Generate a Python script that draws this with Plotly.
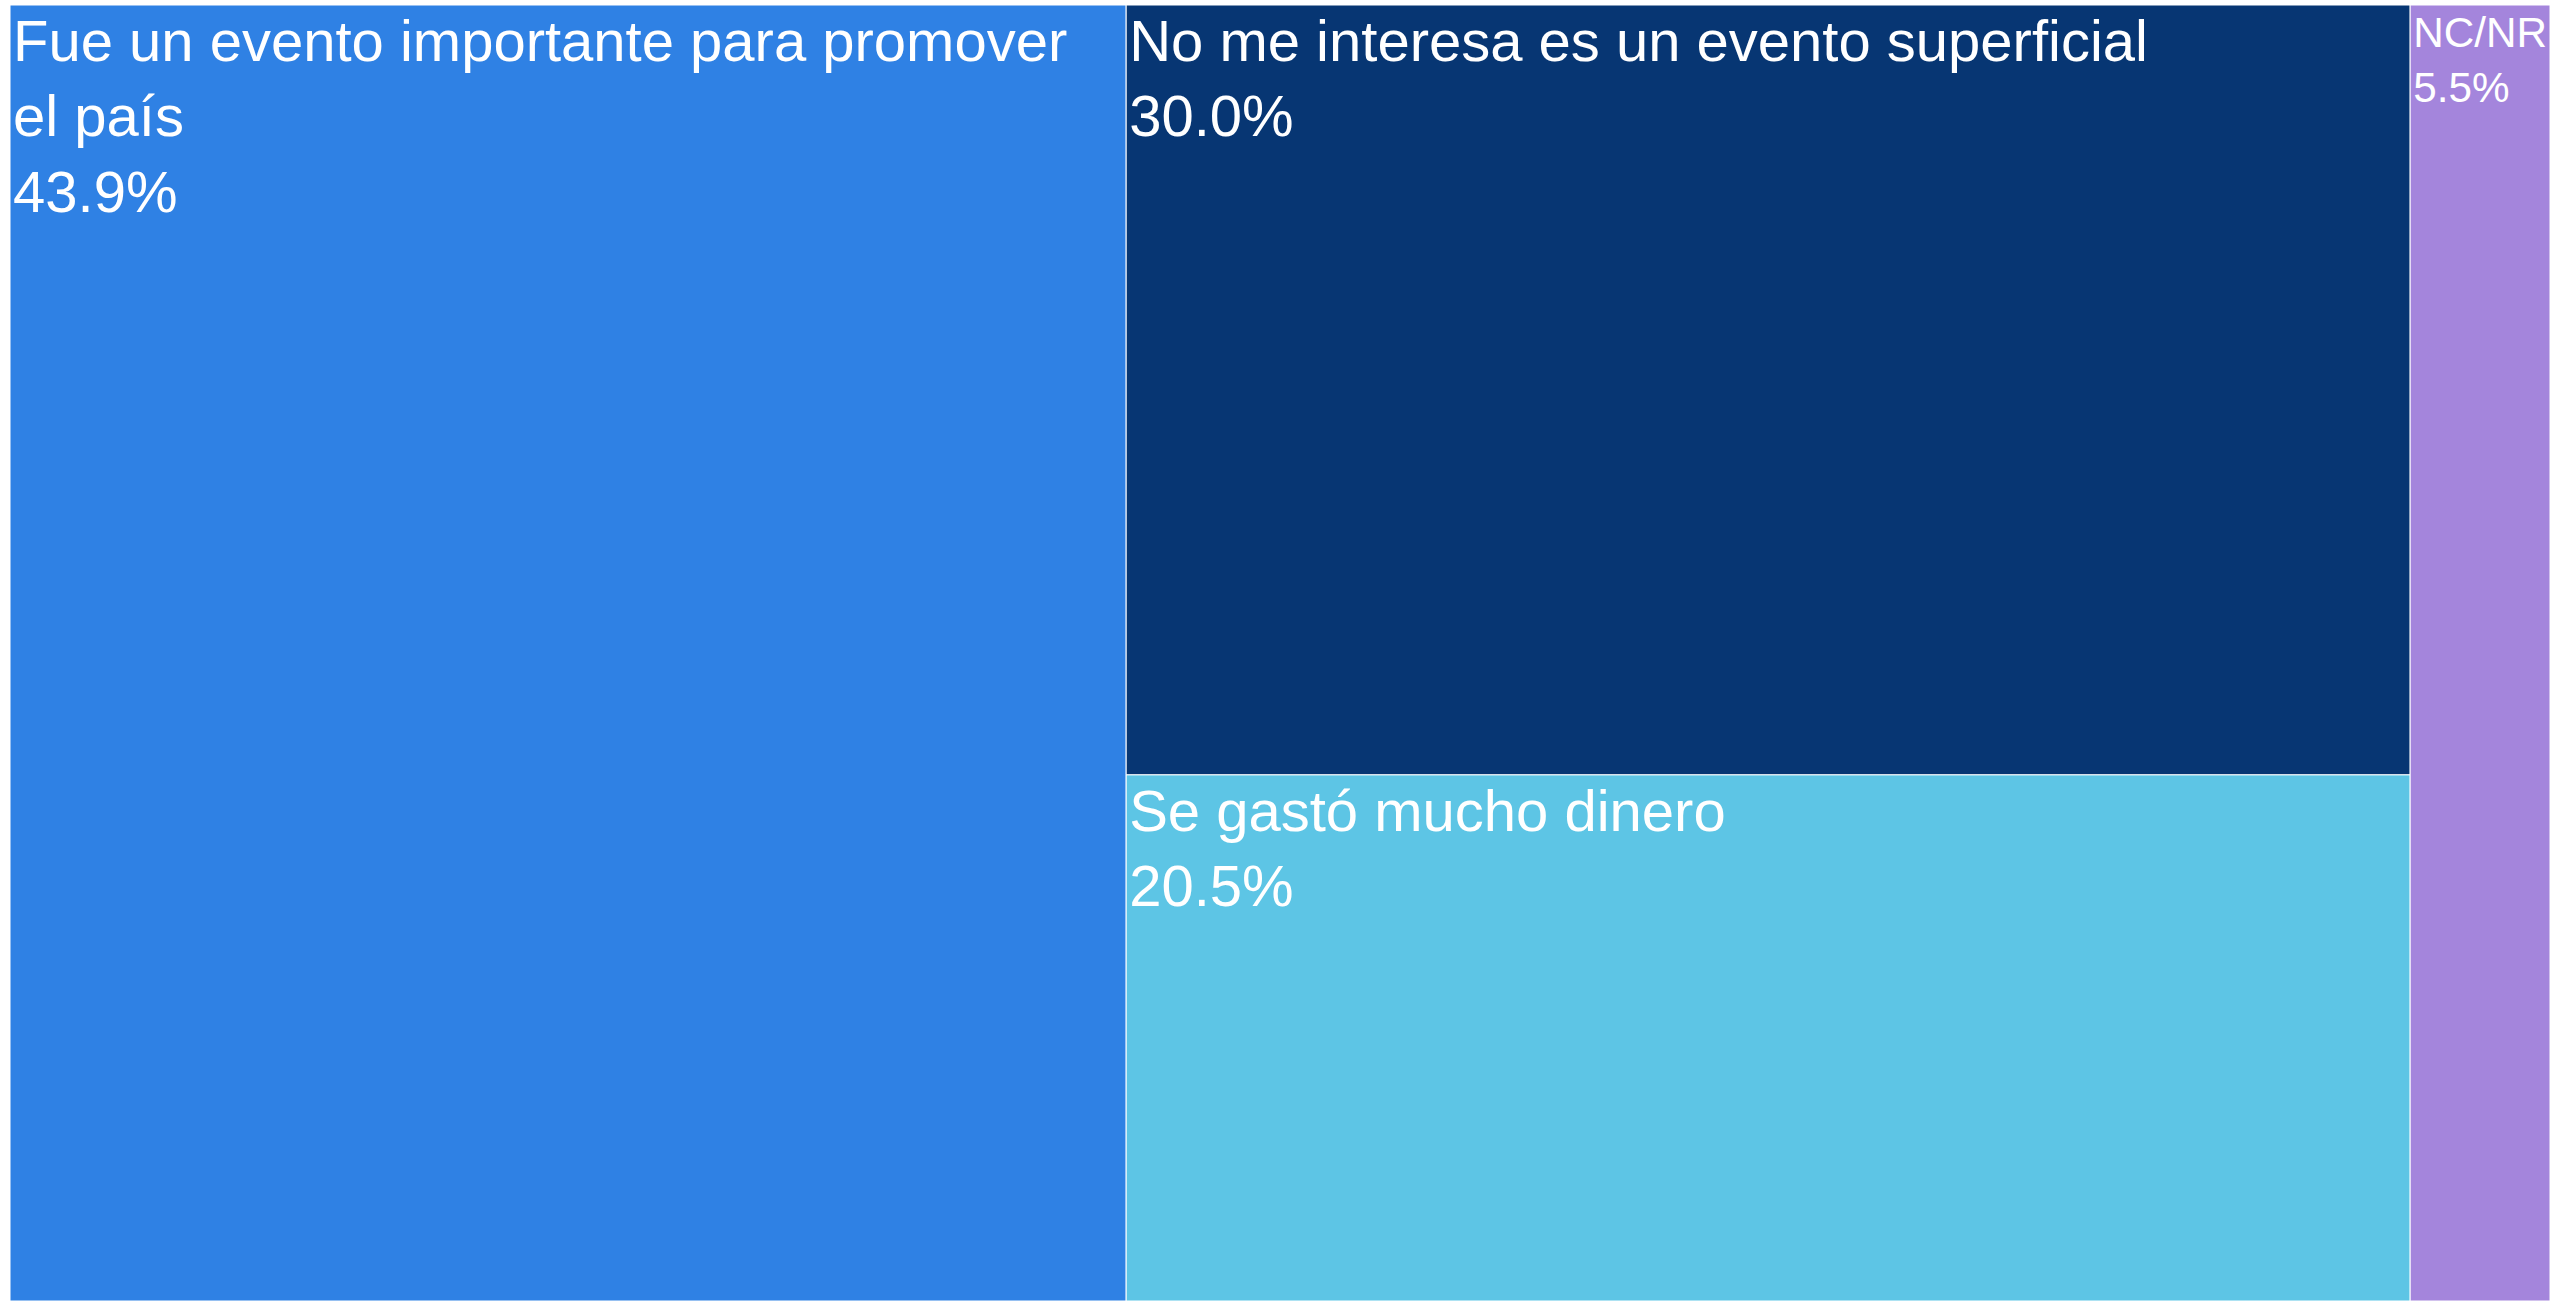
import plotly.graph_objects as go

# Survey answers and their shares (%)
labels = [
    "Fue un evento importante para promover el país",
    "No me interesa es un evento superficial",
    "Se gastó mucho dinero",
    "NC/NR",
]
shares = [43.9, 30.0, 20.5, 5.5]
colors = ["#2F81E4", "#073673", "#5DC5E5", "#A485DC"]

# Wrap the long first answer onto two lines inside its tile
display = [
    "Fue un evento importante para promover<br>el país",
    "No me interesa es un evento superficial",
    "Se gastó mucho dinero",
    "NC/NR",
]

fig = go.Figure(
    go.Treemap(
        labels=labels,
        parents=[""] * len(labels),
        values=shares,
        customdata=display,
        texttemplate="%{customdata}<br>%{value:.1f}%",
        textposition="top left",
        textfont=dict(family="Liberation Sans, Arial, sans-serif", size=58, color="white"),
        marker=dict(
            colors=colors,
            line=dict(color="white", width=1),
            pad=dict(t=0, l=0, r=0, b=0),
        ),
        sort=True,
        tiling=dict(packing="squarify", squarifyratio=1.618, pad=0),
        pathbar=dict(visible=False),
        hoverinfo="label+value",
    )
)

fig.update_layout(
    width=2550,
    height=1301,
    margin=dict(l=10, r=0, t=5, b=0),
    paper_bgcolor="white",
)

fig.write_html("out.html")
